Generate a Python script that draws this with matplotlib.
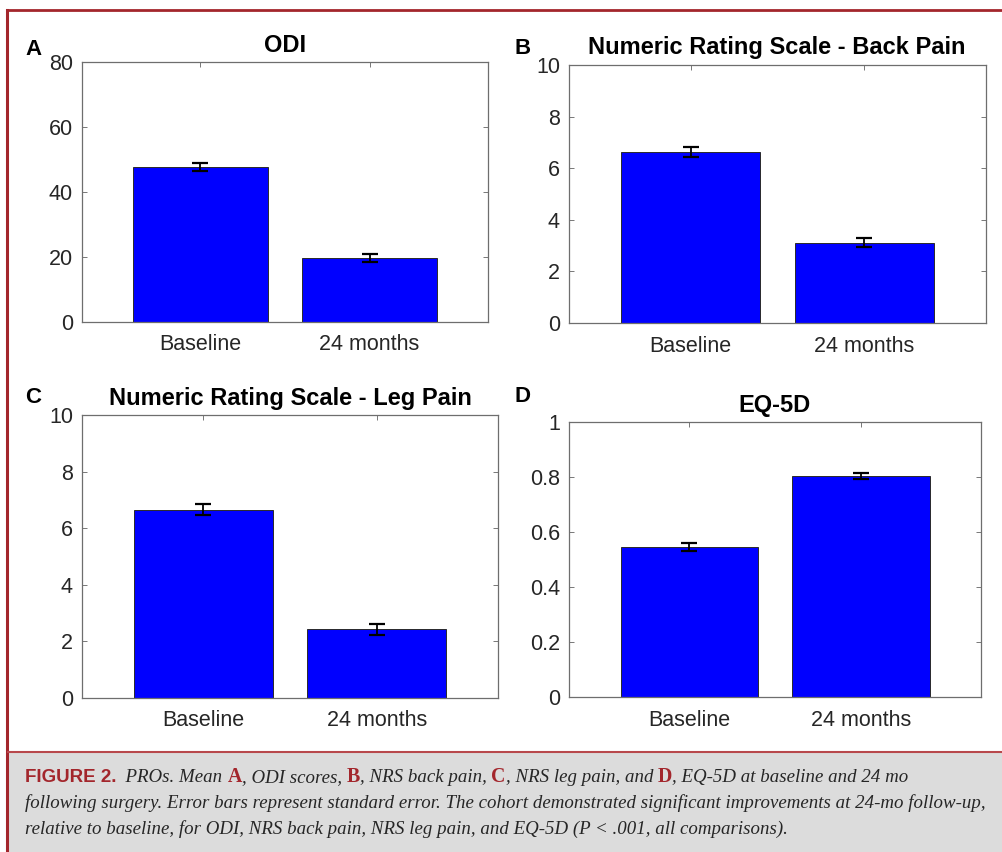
import matplotlib
matplotlib.use('Agg')
import matplotlib.pyplot as plt
from matplotlib.patches import Rectangle
from matplotlib.lines import Line2D

# data
categories = ['Baseline', '24 months']

odi_mean = [47.7, 19.7]
odi_se = [1.1, 1.1]

back_mean = [6.62, 3.12]
back_se = [0.19, 0.19]

leg_mean = [6.66, 2.43]
leg_se = [0.18, 0.19]

eq_mean = [0.546, 0.802]
eq_se = [0.015, 0.011]

titles = ['ODI', 'Numeric Rating Scale - Back Pain',
          'Numeric Rating Scale - Leg Pain', 'EQ-5D']
letters = ['A', 'B', 'C', 'D']

odi_ticks = [0, 20, 40, 60, 80]
nrs_ticks = [0, 2, 4, 6, 8, 10]
eq_ticks = [0, 0.2, 0.4, 0.6, 0.8, 1]
eq_ticklabels = ['0', '0.2', '0.4', '0.6', '0.8', '1']

W = 1002
H = 852
RED = '#a3262c'
SANS = ['Liberation Sans', 'DejaVu Sans']


def fx(x):
    return x / W


def fy(y):
    return 1 - y / H


fig = plt.figure(figsize=(W / 100, H / 100), dpi=100)
fig.patch.set_facecolor('white')

# panel boxes in pixels: left, top, right, bottom
boxes = [(82, 62, 488, 322), (569, 65, 986, 323),
         (82, 415, 498, 698), (569, 422, 981, 697)]
# title baseline / letter positions in pixels
title_pos = [(285, 52), (777, 54), (290, 405), (775, 412)]
letter_pos = [(25, 55), (515, 54), (25, 403), (515, 402)]

panels = [
    (odi_mean, odi_se, odi_ticks, [str(t) for t in odi_ticks]),
    (back_mean, back_se, nrs_ticks, [str(t) for t in nrs_ticks]),
    (leg_mean, leg_se, nrs_ticks, [str(t) for t in nrs_ticks]),
    (eq_mean, eq_se, eq_ticks, eq_ticklabels),
]

xpos = [1, 2]
for i in range(4):
    mean, se, yt, ytl = panels[i]
    l, t, r, b = boxes[i]
    ax = fig.add_axes([fx(l), fy(b), (r - l) / W, (b - t) / H])
    ax.bar(xpos, mean, width=0.8, color='#0000ff', edgecolor='#2a2a2a',
           linewidth=0.7, zorder=2)
    ax.errorbar(xpos, mean, yerr=se, fmt='none', ecolor='black',
                elinewidth=1.3, capsize=6, capthick=1.6, zorder=3)
    ax.set_xlim(0.3, 2.7)
    ax.set_ylim(yt[0], yt[-1])
    ax.set_xticks(xpos)
    ax.set_xticklabels(categories)
    ax.set_yticks(yt)
    ax.set_yticklabels(ytl)
    ax.tick_params(direction='in', length=3.5, width=0.7, colors='#777777',
                   labelcolor='#262626', labelsize=15.5, top=True, right=True)
    ax.tick_params(axis='x', pad=9)
    ax.tick_params(axis='y', pad=6.5)
    for lab in ax.get_xticklabels() + ax.get_yticklabels():
        lab.set_family(SANS)
    for s in ax.spines.values():
        s.set_color('#6e6e6e')
        s.set_linewidth(0.9)
    tx, ty = title_pos[i]
    fig.text(fx(tx), fy(ty), titles[i], ha='center', va='baseline',
             fontsize=17, fontweight='bold', family=SANS, color='black')
    lx, ly = letter_pos[i]
    fig.text(fx(lx), fy(ly), letters[i], ha='left', va='baseline',
             fontsize=16, fontweight='bold', family=SANS, color='black')

# frame and caption box
fig.patches.append(Rectangle((fx(8), 0), 1 - fx(8), (H - 753) / H,
                             transform=fig.transFigure, facecolor='#dcdcdc',
                             edgecolor='none', zorder=0))
fig.lines.append(Line2D([fx(7), fx(7)], [0, fy(10)], transform=fig.transFigure,
                        color=RED, linewidth=2.2))
fig.lines.append(Line2D([fx(7), 1], [fy(10), fy(10)], transform=fig.transFigure,
                        color=RED, linewidth=2.0))
fig.lines.append(Line2D([fx(8), 1], [fy(752), fy(752)], transform=fig.transFigure,
                        color='#b8484c', linewidth=1.5))

renderer = fig.canvas.get_renderer()


def text_width(txt, style):
    # measure with bar guards so leading/trailing spaces count
    t1 = fig.text(0, 0, '|' + txt + '|', **style)
    t2 = fig.text(0, 0, '||', **style)
    w = t1.get_window_extent(renderer).width - t2.get_window_extent(renderer).width
    t1.remove()
    t2.remove()
    return w


ital = {'family': ['Liberation Serif', 'DejaVu Serif'], 'style': 'italic',
        'color': '#262626', 'fontsize': 10}
line2 = ('following surgery. Error bars represent standard error. The cohort '
         'demonstrated significant improvements at 24-mo follow-up,')
line3 = ('relative to baseline, for ODI, NRS back pain, NRS leg pain, and '
         'EQ-5D (P < .001, all comparisons).')
# fit caption font to the caption width
ital['fontsize'] = 10 * 960 / text_width(line2, ital)
lett = {'family': ['Liberation Serif', 'DejaVu Serif'], 'fontweight': 'bold',
        'color': RED, 'fontsize': ital['fontsize'] * 1.05}
fig_lab = {'family': SANS, 'fontweight': 'bold', 'color': RED, 'fontsize': 13.5}

line1 = [('FIGURE 2.', fig_lab), ('  PROs. Mean ', ital), ('A', lett),
         (', ODI scores, ', ital), ('B', lett), (', NRS back pain, ', ital),
         ('C', lett), (', NRS leg pain, and ', ital), ('D', lett),
         (', EQ-5D at baseline and 24 mo', ital)]

x = 25
for txt, st in line1:
    fig.text(fx(x), fy(782), txt, ha='left', va='baseline', **st)
    x += text_width(txt, st)
fig.text(fx(25), fy(808), line2, ha='left', va='baseline', **ital)
fig.text(fx(25), fy(834), line3, ha='left', va='baseline', **ital)

fig.savefig('out.png', dpi=100)
